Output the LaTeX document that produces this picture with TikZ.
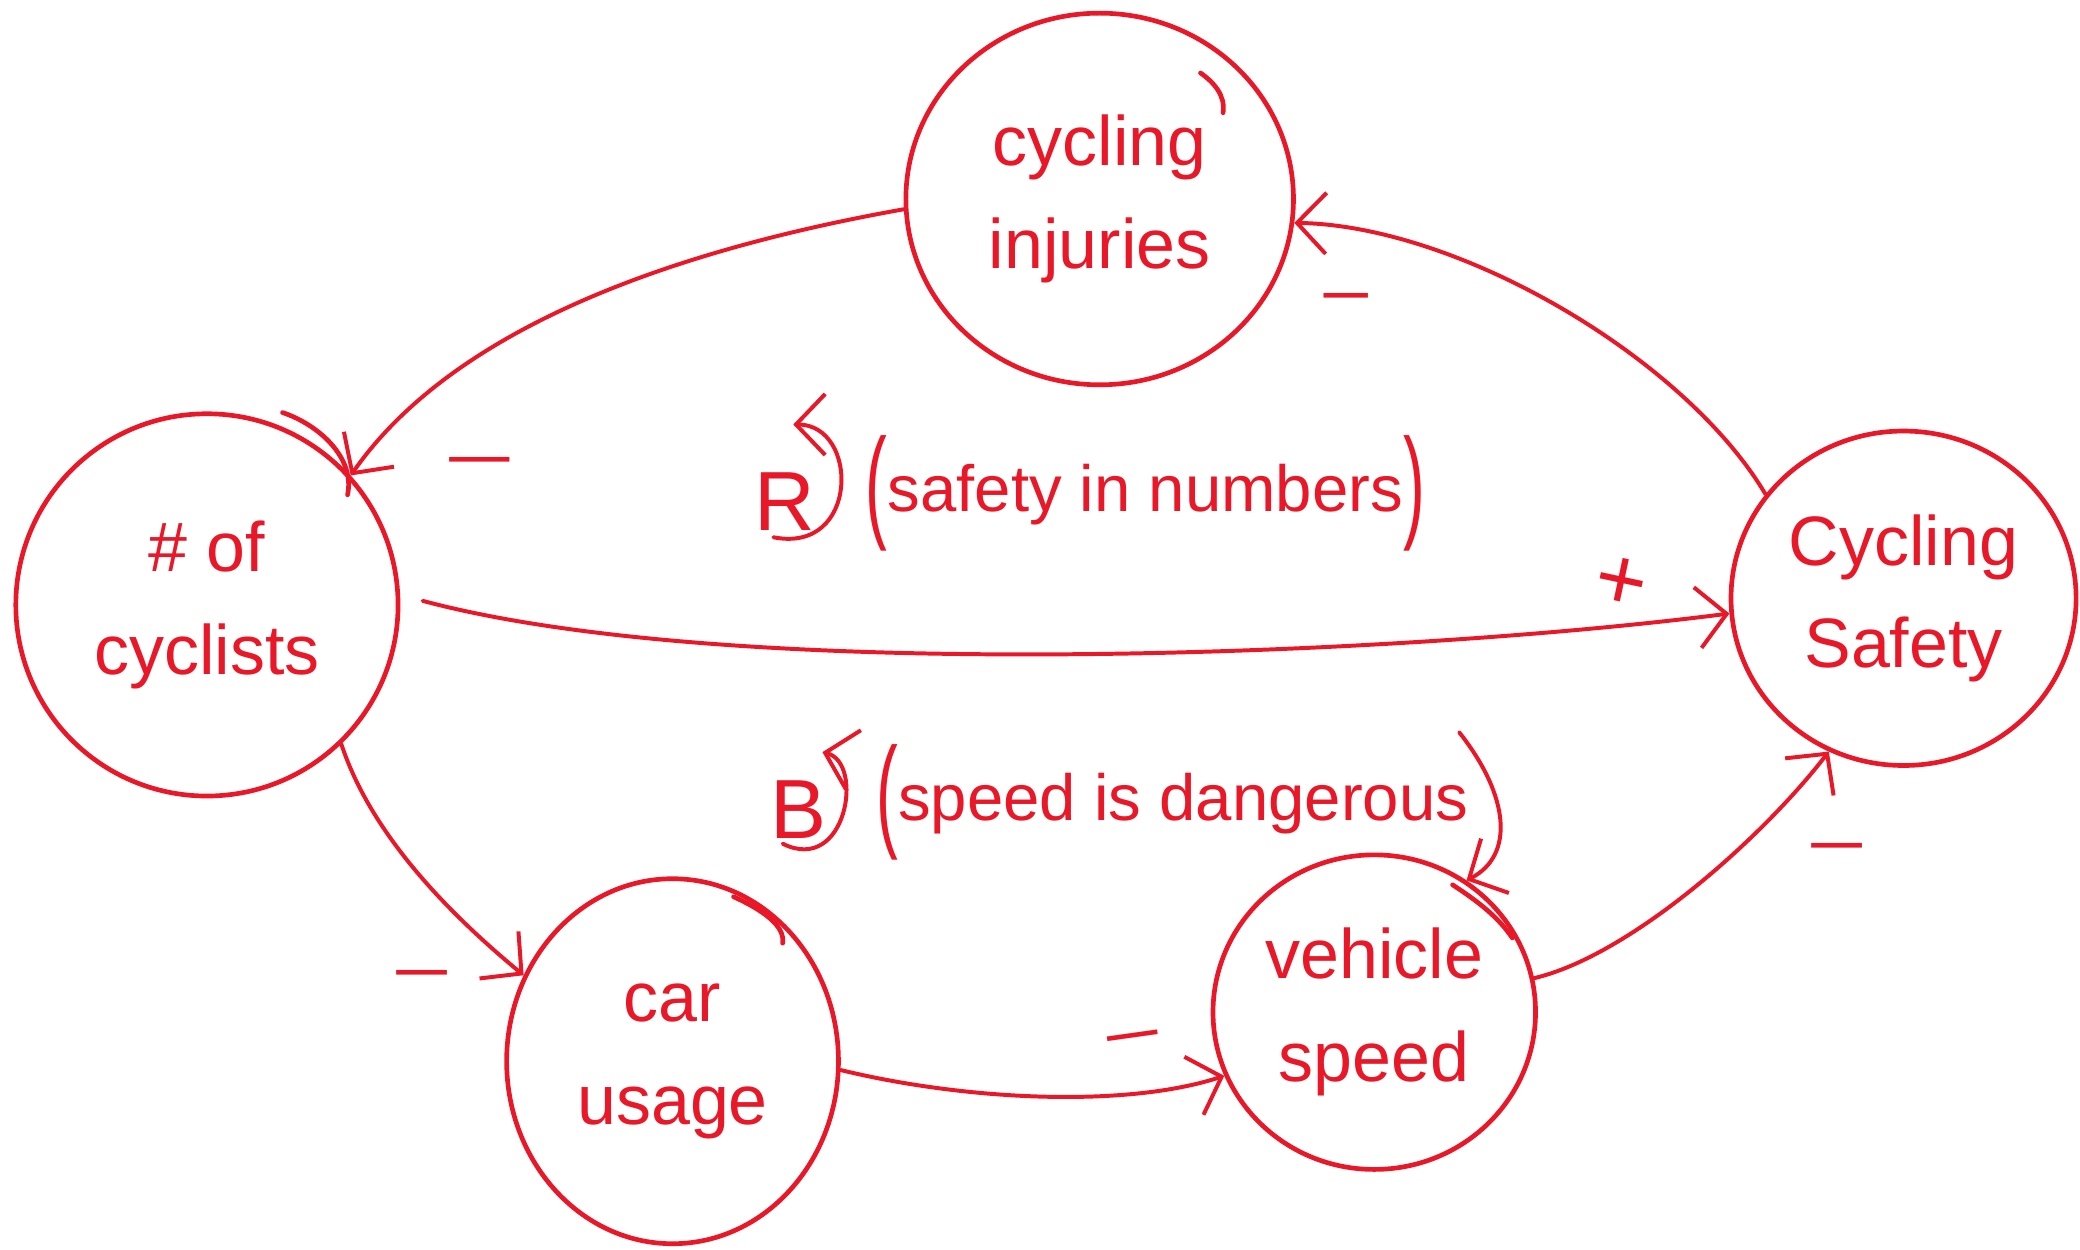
\documentclass[tikz,border=0pt]{standalone}
\usepackage{fontspec}
\setmainfont{Liberation Sans}
\usetikzlibrary{arrows.meta,shapes.geometric}
\definecolor{ink}{RGB}{232,24,40}
% tall, thin brackets around the loop names
\newcommand{\tallparen}[1]{\raisebox{-3pt}{\scalebox{1}[1.9]{#1}}}

\begin{document}
\begin{tikzpicture}[x=0.01cm,y=-0.01cm,
  inkline/.style={draw=ink, line width=0.85pt, line cap=round, line join=round},
  var/.style={ellipse, draw=ink, line width=1pt, inner sep=0pt, text=ink,
    align=center, font=\fontsize{15}{22}\selectfont},
  tail/.style={draw=ink, line width=1pt, line cap=round},
  link/.style={inkline, -{Straight Barb[length=2.2mm,width=4.6mm]}},
  sign/.style={text=ink, font=\fontsize{14}{14}\selectfont, inner sep=0pt},
  loopname/.style={text=ink, font=\fontsize{18}{18}\selectfont, inner sep=0pt},
  phrase/.style={text=ink, font=\fontsize{14}{18}\selectfont, inner sep=0pt},
]
\useasboundingbox (0,0) rectangle (1568,942);

% variables
\node[var, minimum width=2.92cm, minimum height=2.80cm] (inj) at (829,150) {cycling\\injuries};
\node[var, minimum width=2.88cm, minimum height=2.88cm] (cyc) at (156,456) {\# of\\cyclists};
\node[var, minimum width=2.60cm, minimum height=2.52cm] (saf) at (1435,451) {Cycling\\Safety};
\node[var, minimum width=2.50cm, minimum height=2.75cm] (car) at (507,800) {car\\usage};
\node[var, minimum width=2.43cm, minimum height=2.37cm] (spd) at (1036,763) {vehicle\\speed};

% pen overlaps where each outline was closed
\draw[tail] (213,311) .. controls (240,320) and (268,345) .. (262,373);
\draw[tail] (905,55) .. controls (915,62) and (924,72) .. (922,85);
\draw[tail] (553,676) .. controls (575,686) and (592,698) .. (590,711);
\draw[tail] (1095,667) .. controls (1115,680) and (1130,692) .. (1140,707);

% causal links
\draw[link] (inj.183) .. controls (500,190) and (340,250) .. (cyc.42);
\draw[link] (saf.143) .. controls (1270,270) and (1100,170) .. (inj.-7);
\draw[link, shorten <=5pt] (cyc.3) .. controls (550,515) and (1050,495) .. (saf.185);
\draw[link] (cyc.-46) .. controls (280,630) and (340,690) .. (car.150);
\draw[link] (car.-3) .. controls (730,830) and (850,835) .. (spd.203);
\draw[link] (spd.12) .. controls (1230,720) and (1330,630) .. (saf.244);

% link polarities
\node[sign] (s1) at (362,354) {\scalebox{1.9}[1]{−}};
\node[sign] (s2) at (1015,230) {\scalebox{1.4}[1]{−}};
\node[sign, rotate=-12] (s3) at (1222,440) {\scalebox{1.35}{+}};
\node[sign] (s4) at (318,741) {\scalebox{1.6}[1]{−}};
\node[sign, rotate=8] (s5) at (855,788) {\scalebox{1.6}[1]{−}};
\node[sign] (s6) at (1385,645) {\scalebox{1.6}[1]{−}};

% reinforcing loop
\node[loopname] (rname) at (592,378) {R};
\coordinate (rstart) at (583,405);
\coordinate (rend) at (598,320);
\draw[link] (rstart) .. controls (648,418) and (648,320) .. (rend);
\node[phrase, anchor=west] (rtext) at (652,372) {\tallparen{(}safety in numbers\tallparen{)}};

% balancing loop
\node[loopname] (bname) at (602,610) {B};
\coordinate (bstart) at (590,636);
\coordinate (bend) at (620,567);
\draw[link] (bstart) .. controls (638,660) and (652,575) .. (bend);
\node[phrase, anchor=west] (btext) at (660,605) {\tallparen{(}speed is dangerous};
\coordinate (bclose) at (1100,552);
\draw[link] (bclose) .. controls (1138,600) and (1142,645) .. (spd.55);
\end{tikzpicture}
\end{document}
